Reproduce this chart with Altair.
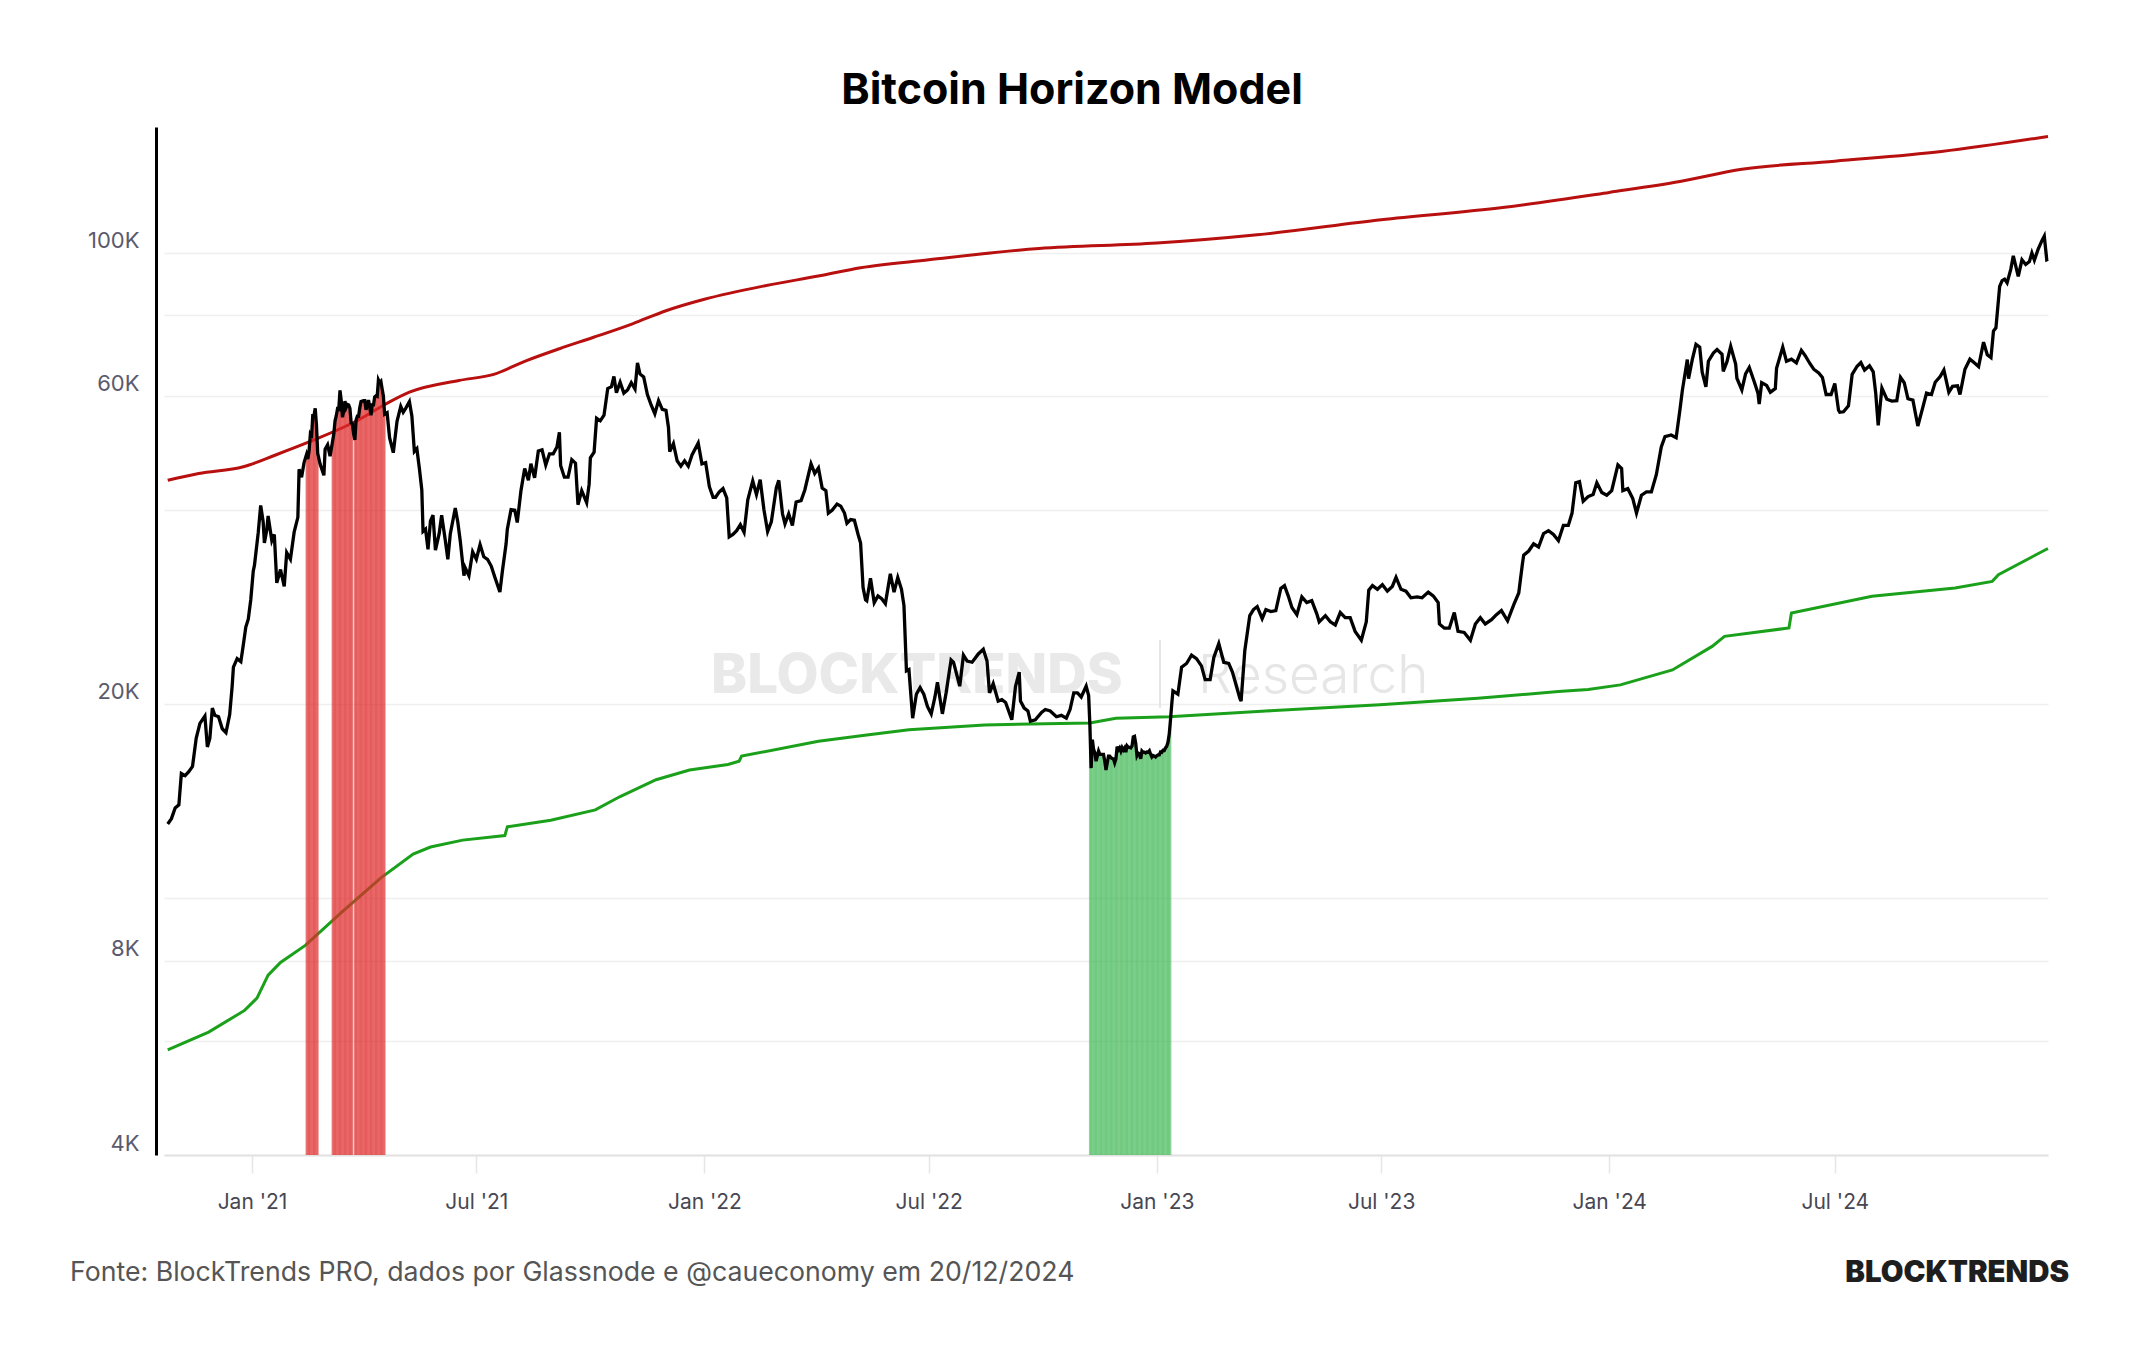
import altair as alt
import pandas as pd

FONT = "Inter"

# BTC daily close (USD), sampled every few days
btc_2020 = [
    ("2020-10-25", 13030), ("2020-10-28", 13280), ("2020-10-31", 13800), ("2020-11-03", 13950),
    ("2020-11-05", 15600), ("2020-11-08", 15480), ("2020-11-11", 15700), ("2020-11-14", 16000),
    ("2020-11-17", 17700), ("2020-11-20", 18650), ("2020-11-24", 19150), ("2020-11-26", 17150),
    ("2020-11-28", 17700), ("2020-11-30", 19700), ("2020-12-02", 19200), ("2020-12-05", 19100),
    ("2020-12-08", 18300), ("2020-12-11", 18050), ("2020-12-14", 19250), ("2020-12-16", 21300),
    ("2020-12-17", 22800), ("2020-12-20", 23500), ("2020-12-23", 23250), ("2020-12-25", 24700),
    ("2020-12-27", 26300), ("2020-12-29", 27050), ("2020-12-31", 29000),
]

btc_2021 = [
    ("2021-01-02", 32100), ("2021-01-03", 32800), ("2021-01-06", 36800), ("2021-01-08", 40600),
    ("2021-01-10", 38300), ("2021-01-11", 35500), ("2021-01-13", 37300), ("2021-01-14", 39100),
    ("2021-01-17", 35800), ("2021-01-19", 36600), ("2021-01-21", 30800), ("2021-01-24", 32300),
    ("2021-01-27", 30400), ("2021-01-29", 34300), ("2021-02-01", 33500), ("2021-02-04", 36900),
    ("2021-02-07", 38900), ("2021-02-08", 46200), ("2021-02-10", 44900), ("2021-02-12", 47300),
    ("2021-02-25", 47000), ("2021-02-28", 45200), ("2021-03-01", 49600), ("2021-03-03", 50400),
    ("2021-03-05", 48400), ("2021-03-24", 52400),
    ("2021-04-20", 56500), ("2021-04-22", 51700), ("2021-04-25", 49000), ("2021-04-28", 54800),
    ("2021-05-01", 57800), ("2021-05-03", 56600), ("2021-05-05", 57400), ("2021-05-08", 58800),
    ("2021-05-10", 55800), ("2021-05-12", 49200), ("2021-05-14", 49700), ("2021-05-16", 46400),
    ("2021-05-18", 42900), ("2021-05-19", 37000), ("2021-05-21", 37300), ("2021-05-23", 34700),
    ("2021-05-25", 38400), ("2021-05-27", 39200), ("2021-05-29", 34600), ("2021-06-01", 36700),
    ("2021-06-03", 39200), ("2021-06-06", 35800), ("2021-06-08", 33500), ("2021-06-10", 36700),
    ("2021-06-14", 40200), ("2021-06-16", 38300), ("2021-06-18", 35800), ("2021-06-21", 31600),
    ("2021-06-22", 32500), ("2021-06-25", 31600), ("2021-06-28", 34400), ("2021-07-01", 33500),
    ("2021-07-04", 35300), ("2021-07-07", 33800), ("2021-07-10", 33500), ("2021-07-13", 32700),
    ("2021-07-16", 31400), ("2021-07-20", 29800), ("2021-07-22", 32100), ("2021-07-25", 35400),
    ("2021-07-26", 37300), ("2021-07-29", 40000), ("2021-08-01", 39900), ("2021-08-03", 38200),
    ("2021-08-06", 42800), ("2021-08-09", 46300), ("2021-08-12", 44400), ("2021-08-14", 47100),
    ("2021-08-17", 44800), ("2021-08-20", 49300), ("2021-08-23", 49500), ("2021-08-26", 46900),
    ("2021-08-29", 48800), ("2021-09-01", 48800), ("2021-09-04", 50000), ("2021-09-06", 52700),
    ("2021-09-07", 46800), ("2021-09-10", 44900), ("2021-09-13", 44900), ("2021-09-16", 47800),
    ("2021-09-19", 47200), ("2021-09-21", 40700), ("2021-09-24", 42800), ("2021-09-28", 41000),
    ("2021-09-30", 43800), ("2021-10-01", 48100), ("2021-10-04", 49100), ("2021-10-06", 55400),
    ("2021-10-09", 54900), ("2021-10-12", 56000), ("2021-10-15", 61600), ("2021-10-18", 62000),
    ("2021-10-20", 64300), ("2021-10-22", 60700), ("2021-10-25", 63000), ("2021-10-28", 60600),
    ("2021-10-31", 61300), ("2021-11-03", 62900), ("2021-11-06", 61500), ("2021-11-08", 67500),
    ("2021-11-10", 64900), ("2021-11-13", 64200), ("2021-11-16", 60300), ("2021-11-19", 58100),
    ("2021-11-22", 56300), ("2021-11-25", 59000), ("2021-11-28", 57200), ("2021-12-01", 57000),
    ("2021-12-03", 53600), ("2021-12-04", 49200), ("2021-12-07", 50600), ("2021-12-10", 47600),
    ("2021-12-13", 46700), ("2021-12-16", 47600), ("2021-12-19", 46700), ("2021-12-22", 48600),
    ("2021-12-27", 50700), ("2021-12-30", 47100),
]

btc_2022 = [
    ("2022-01-02", 47300), ("2022-01-05", 43400), ("2022-01-08", 41800), ("2022-01-10", 41800),
    ("2022-01-13", 42600), ("2022-01-16", 43100), ("2022-01-19", 41700), ("2022-01-21", 36300),
    ("2022-01-24", 36600), ("2022-01-27", 37100), ("2022-01-30", 37900), ("2022-02-02", 36900),
    ("2022-02-05", 41400), ("2022-02-09", 44300), ("2022-02-12", 42200), ("2022-02-15", 44500),
    ("2022-02-18", 40000), ("2022-02-21", 37000), ("2022-02-24", 38300), ("2022-02-28", 43200),
    ("2022-03-02", 44400), ("2022-03-05", 39400), ("2022-03-07", 38000), ("2022-03-10", 39400),
    ("2022-03-13", 37800), ("2022-03-16", 41100), ("2022-03-20", 41300), ("2022-03-23", 42900),
    ("2022-03-28", 47100), ("2022-03-31", 45500), ("2022-04-03", 46400), ("2022-04-06", 43200),
    ("2022-04-09", 42800), ("2022-04-11", 39500), ("2022-04-14", 39900), ("2022-04-18", 40800),
    ("2022-04-21", 40500), ("2022-04-24", 39500), ("2022-04-26", 38100), ("2022-04-29", 38600),
    ("2022-05-02", 38500), ("2022-05-05", 36600), ("2022-05-07", 35500), ("2022-05-09", 30300),
    ("2022-05-11", 29000), ("2022-05-12", 28900), ("2022-05-15", 31300), ("2022-05-18", 28700),
    ("2022-05-21", 29400), ("2022-05-24", 29100), ("2022-05-27", 28600), ("2022-05-31", 31800),
    ("2022-06-03", 29800), ("2022-06-06", 31400), ("2022-06-09", 30100), ("2022-06-11", 28400),
    ("2022-06-13", 22500), ("2022-06-15", 22600), ("2022-06-18", 19000), ("2022-06-21", 20700),
    ("2022-06-24", 21200), ("2022-06-27", 20700), ("2022-06-30", 19800), ("2022-07-03", 19300),
    ("2022-07-06", 20500), ("2022-07-08", 21600), ("2022-07-12", 19300), ("2022-07-15", 20800),
    ("2022-07-19", 23400), ("2022-07-21", 23200), ("2022-07-26", 21300), ("2022-07-29", 23800),
    ("2022-08-01", 23300), ("2022-08-05", 23200), ("2022-08-10", 23900), ("2022-08-14", 24300),
    ("2022-08-17", 23300), ("2022-08-19", 20800), ("2022-08-22", 21500), ("2022-08-26", 20200),
    ("2022-08-29", 20300), ("2022-09-01", 20100), ("2022-09-06", 18900), ("2022-09-09", 21300),
    ("2022-09-12", 22400), ("2022-09-13", 20200), ("2022-09-16", 19700), ("2022-09-19", 19500),
    ("2022-09-21", 18800), ("2022-09-25", 18900), ("2022-09-30", 19400), ("2022-10-03", 19600),
    ("2022-10-07", 19500), ("2022-10-12", 19100), ("2022-10-16", 19200), ("2022-10-20", 19000),
    ("2022-10-23", 19600), ("2022-10-26", 20800), ("2022-10-29", 20800), ("2022-11-01", 20500),
    ("2022-11-05", 21300), ("2022-11-07", 20600),
]

btc_2023 = [
    ("2023-01-13", 19930), ("2023-01-14", 20950), ("2023-01-18", 20700), ("2023-01-21", 22800),
    ("2023-01-25", 23100), ("2023-01-29", 23800), ("2023-02-02", 23500), ("2023-02-06", 22900),
    ("2023-02-09", 21800), ("2023-02-13", 21800), ("2023-02-16", 23600), ("2023-02-20", 24800),
    ("2023-02-24", 23200), ("2023-02-28", 23100), ("2023-03-03", 22400), ("2023-03-09", 20400),
    ("2023-03-10", 20200), ("2023-03-13", 24200), ("2023-03-17", 27400), ("2023-03-20", 28000),
    ("2023-03-23", 28300), ("2023-03-27", 27100), ("2023-03-30", 28000), ("2023-04-03", 27800),
    ("2023-04-07", 27900), ("2023-04-11", 30200), ("2023-04-14", 30500), ("2023-04-17", 29400),
    ("2023-04-20", 28200), ("2023-04-24", 27500), ("2023-04-28", 29300), ("2023-05-02", 28700),
    ("2023-05-06", 28900), ("2023-05-10", 27600), ("2023-05-12", 26800), ("2023-05-17", 27400),
    ("2023-05-21", 26800), ("2023-05-25", 26500), ("2023-05-29", 27700), ("2023-06-02", 27200),
    ("2023-06-06", 27200), ("2023-06-10", 25900), ("2023-06-15", 25100), ("2023-06-19", 26800),
    ("2023-06-21", 30000), ("2023-06-24", 30500), ("2023-06-28", 30100), ("2023-07-02", 30600),
    ("2023-07-06", 29900), ("2023-07-10", 30400), ("2023-07-13", 31400), ("2023-07-17", 30100),
    ("2023-07-21", 29900), ("2023-07-25", 29200), ("2023-07-30", 29300), ("2023-08-03", 29200),
    ("2023-08-08", 29800), ("2023-08-12", 29400), ("2023-08-16", 28700), ("2023-08-17", 26600),
    ("2023-08-21", 26200), ("2023-08-25", 26200), ("2023-08-29", 27700), ("2023-09-01", 25900),
    ("2023-09-06", 25800), ("2023-09-11", 25100), ("2023-09-15", 26600), ("2023-09-19", 27200),
    ("2023-09-23", 26600), ("2023-09-28", 27000), ("2023-10-02", 27500), ("2023-10-06", 27900),
    ("2023-10-11", 26900), ("2023-10-16", 28500), ("2023-10-20", 29700), ("2023-10-23", 33000),
    ("2023-10-24", 34000), ("2023-10-28", 34500), ("2023-11-01", 35400), ("2023-11-05", 35000),
    ("2023-11-09", 36700), ("2023-11-13", 37100), ("2023-11-17", 36600), ("2023-11-21", 35800),
    ("2023-11-25", 37800), ("2023-11-29", 37800), ("2023-12-02", 39500), ("2023-12-05", 44000),
    ("2023-12-08", 44200), ("2023-12-11", 41200), ("2023-12-15", 41900), ("2023-12-19", 42200),
    ("2023-12-22", 44000), ("2023-12-26", 42500), ("2023-12-30", 42100),
]

btc_2024 = [
    ("2024-01-03", 42800), ("2024-01-08", 46900), ("2024-01-11", 46300), ("2024-01-12", 42800),
    ("2024-01-16", 43100), ("2024-01-20", 41600), ("2024-01-23", 39500), ("2024-01-27", 42100),
    ("2024-01-31", 42600), ("2024-02-04", 42600), ("2024-02-08", 45300), ("2024-02-12", 50000),
    ("2024-02-15", 51900), ("2024-02-20", 52200), ("2024-02-24", 51700), ("2024-02-27", 57000),
    ("2024-02-29", 61200), ("2024-03-04", 68300), ("2024-03-05", 63800), ("2024-03-08", 68300),
    ("2024-03-11", 72100), ("2024-03-14", 71400), ("2024-03-16", 65300), ("2024-03-19", 62000),
    ("2024-03-21", 67900), ("2024-03-25", 69900), ("2024-03-28", 70800), ("2024-04-01", 69600),
    ("2024-04-02", 65500), ("2024-04-05", 67800), ("2024-04-08", 71600), ("2024-04-12", 67200),
    ("2024-04-13", 63900), ("2024-04-17", 61300), ("2024-04-20", 64900), ("2024-04-23", 66400),
    ("2024-04-27", 63100), ("2024-04-30", 60600), ("2024-05-01", 58300), ("2024-05-03", 62900),
    ("2024-05-07", 62300), ("2024-05-10", 60800), ("2024-05-14", 61600), ("2024-05-15", 66200),
    ("2024-05-20", 71400), ("2024-05-23", 67900), ("2024-05-27", 68400), ("2024-05-31", 67500),
    ("2024-06-04", 70600), ("2024-06-07", 69300), ("2024-06-11", 67300), ("2024-06-14", 66000),
    ("2024-06-18", 65100), ("2024-06-21", 64100), ("2024-06-24", 60300), ("2024-06-28", 60300),
    ("2024-07-01", 62700), ("2024-07-04", 57000), ("2024-07-05", 56600), ("2024-07-08", 56700),
    ("2024-07-12", 57900), ("2024-07-15", 64800), ("2024-07-19", 66700), ("2024-07-22", 67600),
    ("2024-07-25", 65800), ("2024-07-29", 66800), ("2024-08-01", 65400), ("2024-08-03", 60600),
    ("2024-08-05", 54000), ("2024-08-08", 61700), ("2024-08-12", 59300), ("2024-08-16", 58900),
    ("2024-08-20", 59000), ("2024-08-23", 64100), ("2024-08-26", 62900), ("2024-08-29", 59400),
    ("2024-09-02", 59100), ("2024-09-06", 53900), ("2024-09-10", 57600), ("2024-09-13", 60600),
    ("2024-09-17", 60300), ("2024-09-20", 63000), ("2024-09-24", 64300), ("2024-09-27", 65800),
    ("2024-10-01", 60800), ("2024-10-04", 62100), ("2024-10-08", 62200), ("2024-10-10", 60300),
    ("2024-10-14", 66000), ("2024-10-18", 68400), ("2024-10-22", 67400), ("2024-10-25", 66600),
    ("2024-10-29", 72700), ("2024-11-01", 69500), ("2024-11-04", 68800), ("2024-11-06", 75600),
    ("2024-11-08", 76500), ("2024-11-11", 88700), ("2024-11-13", 90500), ("2024-11-15", 91000),
    ("2024-11-17", 89800), ("2024-11-20", 94300), ("2024-11-22", 98900), ("2024-11-26", 91900),
    ("2024-11-29", 97500), ("2024-12-02", 95900), ("2024-12-05", 96900), ("2024-12-07", 99900),
    ("2024-12-09", 97400), ("2024-12-12", 101200), ("2024-12-15", 104300), ("2024-12-17", 106100),
    ("2024-12-19", 97500), ("2024-12-20", 97700),
]

# Days with price above the upper band (sell zone), daily close
red_signal = [
    ("2021-02-14", 48700), ("2021-02-15", 47900), ("2021-02-16", 49200), ("2021-02-17", 52100),
    ("2021-02-18", 51600), ("2021-02-19", 55900), ("2021-02-20", 55900), ("2021-02-21", 57400),
    ("2021-02-22", 54100), ("2021-02-23", 48900),
    ("2021-03-07", 51000), ("2021-03-08", 52400), ("2021-03-09", 54900), ("2021-03-10", 55900),
    ("2021-03-11", 57300), ("2021-03-12", 57200), ("2021-03-13", 61200), ("2021-03-14", 59000),
    ("2021-03-15", 55600), ("2021-03-16", 56900), ("2021-03-17", 58900), ("2021-03-18", 57600),
    ("2021-03-19", 58200), ("2021-03-20", 58100), ("2021-03-21", 57400), ("2021-03-22", 54500),
    ("2021-03-23", 54300),
    ("2021-03-25", 51300), ("2021-03-26", 55100), ("2021-03-27", 55800), ("2021-03-28", 55800),
    ("2021-03-29", 57600), ("2021-03-30", 58800), ("2021-03-31", 58900), ("2021-04-01", 59000),
    ("2021-04-02", 59000), ("2021-04-03", 57100), ("2021-04-04", 58200), ("2021-04-05", 59100),
    ("2021-04-06", 57600), ("2021-04-07", 56000), ("2021-04-08", 58100), ("2021-04-09", 58100),
    ("2021-04-10", 59800), ("2021-04-11", 60000), ("2021-04-12", 59900), ("2021-04-13", 63500),
    ("2021-04-14", 62900), ("2021-04-15", 63200), ("2021-04-16", 61500), ("2021-04-17", 60000),
    ("2021-04-18", 56200),
]

# Days with price below the lower band (buy zone), daily close
green_signal = [
    ("2022-11-08", 18540), ("2022-11-09", 15900), ("2022-11-10", 17600), ("2022-11-11", 17000),
    ("2022-11-12", 16800), ("2022-11-13", 16300), ("2022-11-14", 16600), ("2022-11-15", 16900),
    ("2022-11-16", 16700), ("2022-11-17", 16700), ("2022-11-18", 16700), ("2022-11-19", 16700),
    ("2022-11-20", 16300), ("2022-11-21", 15800), ("2022-11-22", 16200), ("2022-11-23", 16600),
    ("2022-11-24", 16600), ("2022-11-25", 16500), ("2022-11-26", 16460), ("2022-11-27", 16440),
    ("2022-11-28", 16210), ("2022-11-29", 16440), ("2022-11-30", 17170), ("2022-12-01", 16970),
    ("2022-12-02", 17090), ("2022-12-03", 16890), ("2022-12-04", 17110), ("2022-12-05", 16970),
    ("2022-12-06", 17090), ("2022-12-07", 16840), ("2022-12-08", 17220), ("2022-12-09", 17130),
    ("2022-12-10", 17130), ("2022-12-11", 17090), ("2022-12-12", 17210), ("2022-12-13", 17780),
    ("2022-12-14", 17810), ("2022-12-15", 17360), ("2022-12-16", 16630), ("2022-12-17", 16780),
    ("2022-12-18", 16740), ("2022-12-19", 16440), ("2022-12-20", 16900), ("2022-12-21", 16820),
    ("2022-12-22", 16830), ("2022-12-23", 16780), ("2022-12-24", 16840), ("2022-12-25", 16830),
    ("2022-12-26", 16920), ("2022-12-27", 16710), ("2022-12-28", 16550), ("2022-12-29", 16630),
    ("2022-12-30", 16600), ("2022-12-31", 16540), ("2023-01-01", 16620), ("2023-01-02", 16670),
    ("2023-01-03", 16670), ("2023-01-04", 16850), ("2023-01-05", 16830), ("2023-01-06", 16950),
    ("2023-01-07", 16940), ("2023-01-08", 17090), ("2023-01-09", 17190), ("2023-01-10", 17440),
    ("2023-01-11", 17940), ("2023-01-12", 18850),
]

# Horizon model upper band
upper_band = [
    ("2020-10-25", 44400), ("2020-11-19", 45500), ("2020-12-25", 46600), ("2021-01-20", 48600),
    ("2021-02-17", 51000), ("2021-03-29", 55200), ("2021-04-19", 58300), ("2021-05-08", 60800),
    ("2021-06-17", 63400), ("2021-07-15", 64800), ("2021-08-10", 68000), ("2021-09-06", 71000),
    ("2021-10-03", 73900), ("2021-11-04", 77600), ("2021-12-01", 81300), ("2022-01-01", 84700),
    ("2022-02-19", 88900), ("2022-04-04", 92100), ("2022-05-07", 94800), ("2022-07-01", 97500),
    ("2022-09-28", 101500), ("2023-01-01", 103500), ("2023-03-23", 106600), ("2023-07-01", 112500),
    ("2023-10-07", 117500), ("2024-01-01", 124000), ("2024-02-27", 128900), ("2024-04-17", 134700),
    ("2024-07-01", 138600), ("2024-09-25", 143500), ("2024-12-20", 151400),
]

# Horizon model lower band
lower_band = [
    ("2020-10-25", 5820), ("2020-11-27", 6200), ("2020-12-26", 6700), ("2021-01-05", 7000),
    ("2021-01-14", 7600), ("2021-01-24", 7950), ("2021-02-13", 8450), ("2021-03-14", 9500),
    ("2021-04-15", 10750), ("2021-05-11", 11700), ("2021-05-25", 12000), ("2021-06-20", 12300),
    ("2021-07-24", 12500), ("2021-07-26", 12900), ("2021-08-30", 13200), ("2021-10-05", 13700),
    ("2021-10-25", 14370), ("2021-11-23", 15260), ("2021-12-20", 15800), ("2022-01-20", 16110),
    ("2022-01-29", 16300), ("2022-01-31", 16600), ("2022-04-03", 17500), ("2022-05-12", 17900),
    ("2022-06-15", 18240), ("2022-08-15", 18550), ("2022-11-08", 18680), ("2022-11-29", 19000),
    ("2023-01-11", 19100), ("2023-03-30", 19500), ("2023-06-30", 19940), ("2023-09-17", 20400),
    ("2023-11-21", 20900), ("2023-12-15", 21050), ("2024-01-10", 21400), ("2024-02-21", 22570),
    ("2024-03-24", 24550), ("2024-04-03", 25450), ("2024-05-25", 26220), ("2024-05-27", 27650),
    ("2024-07-31", 29350), ("2024-10-06", 30240), ("2024-11-05", 30960), ("2024-11-10", 31700),
    ("2024-12-18", 34660), ("2024-12-20", 34800),
]

x_ticks = [(2021, 1), (2021, 7), (2022, 1), (2022, 7), (2023, 1), (2023, 7), (2024, 1), (2024, 7)]
y_grid = [4000, 6000, 8000, 10000, 20000, 40000, 60000, 80000, 100000]
y_labelled = [4000, 8000, 20000, 60000, 100000]

# ---- tables -------------------------------------------------------------
price_points = dict(btc_2020 + btc_2021 + btc_2022 + btc_2023 + btc_2024)
price_points.update(dict(red_signal))
price_points.update(dict(green_signal))
price_df = pd.DataFrame(sorted(price_points.items()), columns=["date", "price"])
upper_df = pd.DataFrame(upper_band, columns=["date", "price"])
lower_df = pd.DataFrame(lower_band, columns=["date", "price"])
red_df = pd.DataFrame(red_signal, columns=["date", "price"])
green_df = pd.DataFrame(green_signal, columns=["date", "price"])

# ---- shared encodings ---------------------------------------------------
x_scale = alt.Scale(
    type="utc",
    domain=[alt.DateTime(year=2020, month=10, date=22, utc=True),
            alt.DateTime(year=2024, month=12, date=20, utc=True)],
)
x_axis = alt.Axis(
    values=[alt.DateTime(year=y, month=m, date=1, utc=True) for y, m in x_ticks],
    labelExpr="utcFormat(datum.value, \"%b '%y\")",
    title=None, grid=False,
    domainColor="#e2e2e2", domainWidth=2, tickColor="#e6e6e6", tickWidth=1.5, tickSize=18,
    labelFont=FONT, labelFontSize=21, labelColor="#474752", labelPadding=18,
)
y_scale = alt.Scale(type="log", domain=[4000, 156600], nice=False)
label_list = ",".join(str(v) for v in y_labelled)
y_axis = alt.Axis(
    values=y_grid, title=None, ticks=False, offset=8,
    domainColor="#000000", domainWidth=3,
    grid=True, gridColor="#efefef", gridWidth=1.5,
    labelFont=FONT, labelFontSize=22, labelColor="#5a5a6e", labelPadding=17,
    labelOffset=-12,
    labelExpr=f"indexof([{label_list}], datum.value) >= 0 ? format(datum.value / 1000, 'd') + 'K' : ''",
)


def xenc():
    return alt.X("date:T", scale=x_scale, axis=x_axis)


def yenc():
    return alt.Y("price:Q", scale=y_scale, axis=y_axis)


def text_layer(text, x, y, size, weight, color, align="left", baseline="middle"):
    return alt.Chart(pd.DataFrame({"t": [text]})).mark_text(
        align=align, baseline=baseline, font=FONT, fontSize=size,
        fontWeight=weight, color=color,
    ).encode(x=alt.value(x), y=alt.value(y), text="t:N")


# ---- watermark ----------------------------------------------------------
wm_brand = text_layer("BLOCKTRENDS", 547, 566, 54.5, 800, "#e9e9e9", baseline="alphabetic")
wm_research = text_layer("Research", 1034, 566, 53, 300, "#e6e6e6", baseline="alphabetic")
wm_sep = alt.Chart(pd.DataFrame({"k": [0]})).mark_rule(color="#e6e6e6", strokeWidth=2).encode(
    x=alt.value(996), y=alt.value(513), y2=alt.value(581)
)

# ---- bands, signals and price ------------------------------------------
upper_line = alt.Chart(upper_df).mark_line(color="#b80f0f", strokeWidth=3, interpolate="monotone").encode(
    x=xenc(), y=yenc()
)
lower_line = alt.Chart(lower_df).mark_line(color="#1aa01a", strokeWidth=3).encode(
    x=xenc(), y=yenc()
)
red_bars = alt.Chart(red_df).mark_rule(color="#de2b2b", strokeWidth=1.9, opacity=0.62).encode(
    x=xenc(), y=yenc(), y2=alt.datum(4000)
)
green_bars = alt.Chart(green_df).mark_rule(color="#35b54a", strokeWidth=1.9, opacity=0.55).encode(
    x=xenc(), y=yenc(), y2=alt.datum(4000)
)
price_line = alt.Chart(price_df).mark_line(color="#000000", strokeWidth=3.3).encode(
    x=xenc(), y=yenc()
)

# ---- titles and credits -------------------------------------------------
title = text_layer("Bitcoin Horizon Model", 908, -36, 43, 700, "#000000", align="center")
source = text_layer(
    "Fonte: BlockTrends PRO, dados por Glassnode e @caueconomy em 20/12/2024",
    -94, 1146, 26.7, 400, "#555555",
)
brand = text_layer("BLOCKTRENDS", 1905, 1146, 29.4, 900, "#1e1e1e", align="right")

chart = alt.layer(
    wm_brand, wm_research, wm_sep,
    upper_line, lower_line, red_bars, green_bars, price_line,
    title, source, brand,
).properties(
    width=1884,
    height=1028,
    autosize=alt.AutoSizeParams(type="none"),
    padding={"left": 164, "top": 127, "right": 96, "bottom": 195},
).configure(background="#ffffff").configure_view(stroke=None)

chart.save("out.html", embed_options={"renderer": "svg", "actions": False})
